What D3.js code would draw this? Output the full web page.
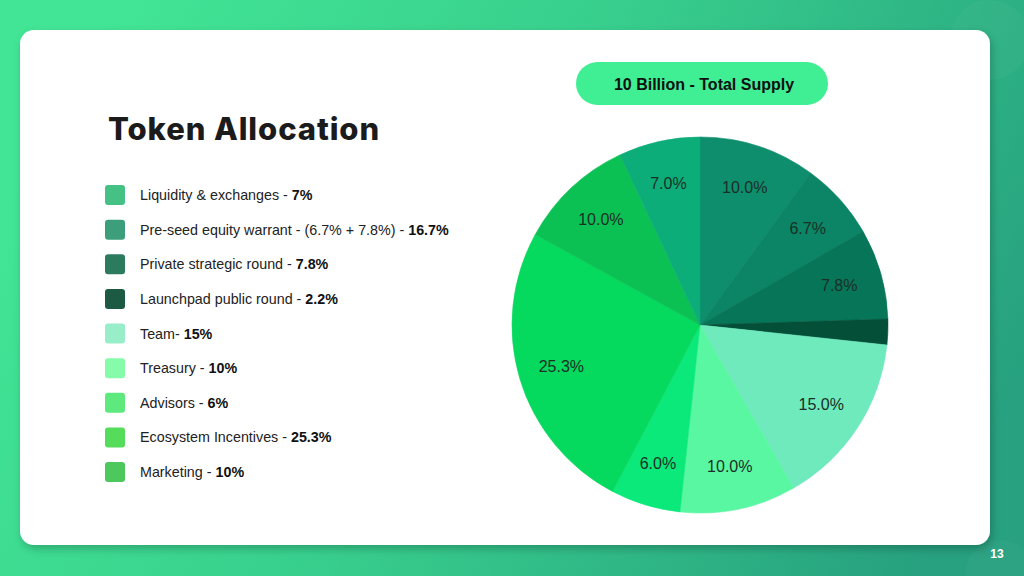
<!DOCTYPE html>
<html lang="en">
<head>
<meta charset="utf-8">
<title>Token Allocation</title>
<script src="https://d3js.org/d3.v7.min.js"></script>
<style>
  html, body { margin: 0; padding: 0; overflow: hidden; }
  svg { display: block; }
  .title { font-family: Inter, "Noto Sans", sans-serif; font-weight: 800; font-size: 31px; fill: #1b1b1b; letter-spacing: 0.9px; }
  .legend { font-family: "Liberation Sans", Arial, sans-serif; font-size: 14.3px; fill: #222; }
  .pill { font-family: "Liberation Sans", Arial, sans-serif; font-size: 16px; font-weight: bold; fill: #111; }
  .slice-label { font-family: "Liberation Sans", Arial, sans-serif; font-size: 16px; fill: #1a2f26; }
  .page { font-family: "Liberation Sans", Arial, sans-serif; font-size: 12px; font-weight: bold; fill: #fff; }
</style>
</head>
<body>
<svg width="1024" height="576"></svg>
<script>
// legend entries (left side)
const legendNames = ["Liquidity & exchanges - ", "Pre-seed equity warrant - (6.7% + 7.8%) - ", "Private strategic round - ",
  "Launchpad public round - ", "Team- ", "Treasury - ", "Advisors - ", "Ecosystem Incentives - ", "Marketing - "];
const legendValues = ["7%", "16.7%", "7.8%", "2.2%", "15%", "10%", "6%", "25.3%", "10%"];
const legendColors = ["#45c185", "#3c9e7b", "#2d7b5e", "#1d5a44", "#97eec9", "#86fbaa", "#5ee97e", "#55dc5b", "#4cc85d"];

// pie slices, clockwise from 12 o'clock
const sliceValues = [10.0, 6.7, 7.8, 2.2, 15.0, 10.0, 6.0, 25.3, 10.0, 7.0];
const sliceColors = ["#0e8e6d", "#0b8565", "#077558", "#044f38", "#6eeabd", "#5af7a3", "#0ae97a", "#05d95e", "#0cc154", "#0cad79"];

const svg = d3.select("svg");
const defs = svg.append("defs");

const grad = defs.append("linearGradient").attr("id", "bg")
  .attr("x1", 0).attr("y1", 0.35).attr("x2", 1).attr("y2", 0.65);
grad.append("stop").attr("offset", "0%").attr("stop-color", "#42e595");
grad.append("stop").attr("offset", "45%").attr("stop-color", "#38cf8d");
grad.append("stop").attr("offset", "100%").attr("stop-color", "#27a17f");

const shadow = defs.append("filter").attr("id", "shadow")
  .attr("x", "-5%").attr("y", "-5%").attr("width", "110%").attr("height", "115%");
shadow.append("feDropShadow").attr("dx", 2).attr("dy", 4).attr("stdDeviation", 4)
  .attr("flood-color", "#000").attr("flood-opacity", 0.22);

// background
svg.append("rect").attr("width", 1024).attr("height", 576).attr("fill", "url(#bg)");

// faint decorative circles
[[990, 40, 40], [1000, 575, 35]].forEach(c => {
  svg.append("circle").attr("cx", c[0]).attr("cy", c[1]).attr("r", c[2])
    .attr("fill", "#fff").attr("opacity", 0.03);
});

// white card
svg.append("rect")
  .attr("x", 20).attr("y", 30).attr("width", 970).attr("height", 515)
  .attr("rx", 14).attr("fill", "#fff").attr("filter", "url(#shadow)");

// page number
svg.append("text").attr("class", "page").attr("x", 997).attr("y", 558)
  .attr("text-anchor", "middle").text("13");

// title
svg.append("text").attr("class", "title").attr("x", 108).attr("y", 140).text("Token Allocation");

// legend
const yLegend = d3.scalePoint().domain(d3.range(legendNames.length)).range([195, 472]);
const leg = svg.selectAll("g.leg").data(legendNames).enter().append("g")
  .attr("class", "leg")
  .attr("transform", (d, i) => "translate(105," + yLegend(i) + ")");
leg.append("rect").attr("x", 0).attr("y", -10).attr("width", 20).attr("height", 20)
  .attr("rx", 3).attr("fill", (d, i) => legendColors[i]);
const lt = leg.append("text").attr("class", "legend").attr("x", 35).attr("y", 5);
lt.append("tspan").text(d => d);
lt.append("tspan").attr("font-weight", "bold").attr("fill", "#111").text((d, i) => legendValues[i]);

// pill
svg.append("rect").attr("x", 576).attr("y", 62).attr("width", 252).attr("height", 43)
  .attr("rx", 21.5).attr("fill", "#40ee93");
svg.append("text").attr("class", "pill").attr("x", 704).attr("y", 89.5)
  .attr("text-anchor", "middle").text("10 Billion - Total Supply");

// pie
const cx = 700, cy = 325, radius = 188;
const pie = d3.pie().sort(null).value(d => d);
const arc = d3.arc().innerRadius(0).outerRadius(radius);
const labelArc = d3.arc().innerRadius(radius * 0.77).outerRadius(radius * 0.77);

const pg = svg.append("g").attr("transform", "translate(" + cx + "," + cy + ")");
const arcs = pie(sliceValues);
pg.selectAll("path").data(arcs).enter().append("path")
  .attr("d", arc)
  .attr("fill", (d, i) => sliceColors[i])
  .attr("stroke", (d, i) => sliceColors[i])
  .attr("stroke-width", 0.6);

// the tiny 2.2% slice carries no label in the original
pg.selectAll("text").data(arcs.filter(d => d.data >= 5)).enter().append("text")
  .attr("class", "slice-label")
  .attr("transform", d => "translate(" + labelArc.centroid(d) + ")")
  .attr("text-anchor", "middle")
  .attr("dy", "0.35em")
  .text(d => d.data.toFixed(1) + "%");
</script>
</body>
</html>
